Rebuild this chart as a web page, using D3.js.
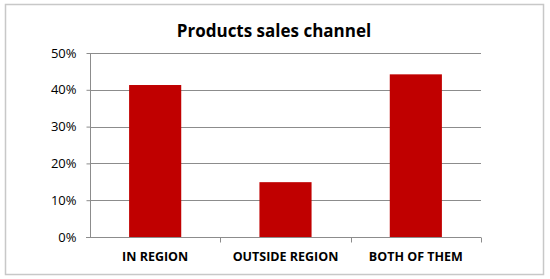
<!DOCTYPE html>
<html>
<head>
<meta charset="utf-8">
<script src="https://cdn.jsdelivr.net/npm/d3@7"></script>
<style>
  body { margin: 0; background: #fff; }
  .axis text { font-family: "Open Sans", "Liberation Sans", sans-serif; fill: #000; }
  .axis path, .axis line { stroke: #8c8c8c; }
</style>
</head>
<body>
<svg id="chart"></svg>
<script>
// Chart data
var categories = ["IN REGION", "OUTSIDE REGION", "BOTH OF THEM"];
var shares = [0.413, 0.149, 0.442];
var yTicks = [0, 0.1, 0.2, 0.3, 0.4, 0.5];

var width = 550, height = 279;
var margin = {top: 53, right: 69, bottom: 42, left: 90};
var plotW = width - margin.left - margin.right;
var plotH = height - margin.top - margin.bottom;

var root = d3.select("#chart")
    .attr("width", width)
    .attr("height", height);

// Outer frame
root.append("rect")
    .attr("x", 5.5).attr("y", 4.5)
    .attr("width", 538).attr("height", 270)
    .attr("fill", "#fff")
    .attr("stroke", "#c8c8c8")
    .attr("stroke-width", 1.5);

// Title
root.append("text")
    .attr("x", 274).attr("y", 37)
    .attr("text-anchor", "middle")
    .style("font-family", "'Open Sans', 'Liberation Sans', sans-serif")
    .style("font-weight", "bold")
    .style("font-size", "17px")
    .text("Products sales channel");

var svg = root.append("g")
    .attr("transform", "translate(" + margin.left + "," + margin.top + ")");

// Scales
var x = d3.scaleBand()
    .domain(categories)
    .range([0, plotW])
    .paddingInner(0.6)
    .paddingOuter(0.3);

var xTick = d3.scaleBand().domain(categories).range([0, plotW]);

var y = d3.scaleLinear()
    .domain([0, 0.5])
    .range([plotH, 0]);

// Gridlines
svg.selectAll(".grid")
  .data(yTicks.slice(1))
  .enter().append("line")
    .attr("class", "grid")
    .attr("x1", 0).attr("x2", plotW)
    .attr("y1", d => Math.round(y(d)) + 0.5)
    .attr("y2", d => Math.round(y(d)) + 0.5)
    .attr("stroke", "#8c8c8c");

// Bars
svg.selectAll(".bar")
  .data(shares)
  .enter().append("rect")
    .attr("class", "bar")
    .attr("x", (d, i) => x(categories[i]))
    .attr("width", x.bandwidth())
    .attr("y", d => y(d))
    .attr("height", d => plotH - y(d))
    .attr("fill", "#c00000");

// Y axis
var yAxis = d3.axisLeft(y)
    .tickValues(yTicks)
    .tickFormat(d3.format(".0%"))
    .tickSize(4)
    .tickPadding(10);

var gy = svg.append("g")
    .attr("class", "axis")
    .attr("transform", "translate(0.5,0)")
    .call(yAxis);
gy.select(".domain").attr("d", "M0," + y(0.5) + "V" + plotH);
gy.selectAll("text").style("font-size", "13px");

// X axis: ticks between categories
var gx = svg.append("g")
    .attr("class", "axis")
    .attr("transform", "translate(0," + (plotH + 0.5) + ")");
gx.append("line")
    .attr("x1", -4).attr("x2", plotW)
    .attr("stroke", "#8c8c8c");
gx.selectAll(".tk")
  .data(categories)
  .enter().append("line")
    .attr("class", "tk")
    .attr("x1", d => Math.round(xTick(d) + xTick.bandwidth()) + 0.5)
    .attr("x2", d => Math.round(xTick(d) + xTick.bandwidth()) + 0.5)
    .attr("y1", 0).attr("y2", 5)
    .attr("stroke", "#8c8c8c");
gx.selectAll(".lbl")
  .data(categories)
  .enter().append("text")
    .attr("class", "lbl")
    .attr("x", d => xTick(d) + xTick.bandwidth() / 2)
    .attr("y", 23)
    .attr("text-anchor", "middle")
    .style("font-size", "12.5px")
    .style("font-weight", "bold")
    .text(d => d);
</script>
</body>
</html>
